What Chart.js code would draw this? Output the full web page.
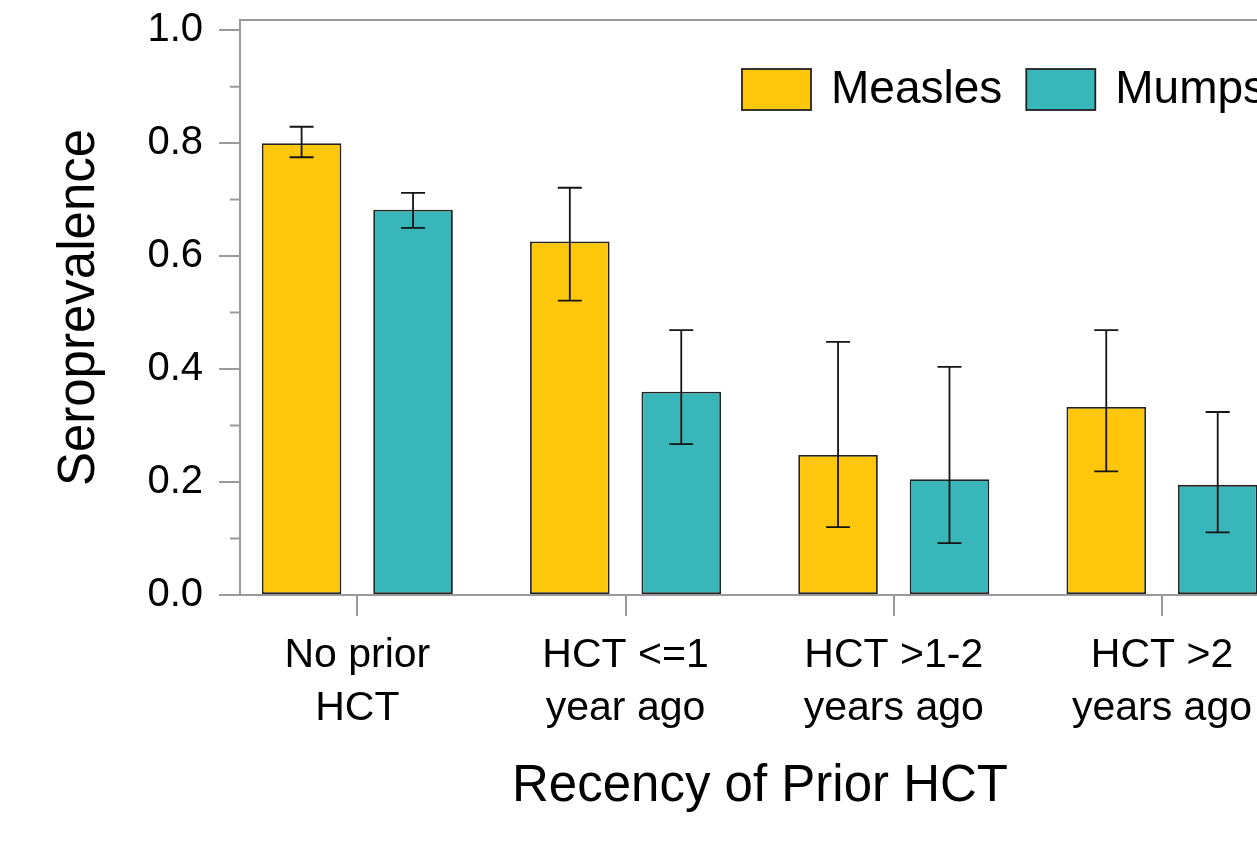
<!DOCTYPE html>
<html>
<head>
<meta charset="utf-8">
<script src="https://cdn.jsdelivr.net/npm/chart.js@4/dist/chart.umd.min.js"></script>
<style>
  html, body { margin: 0; padding: 0; overflow: hidden; background: #fff; }
</style>
</head>
<body>
<canvas id="chart" width="1300" height="845"></canvas>
<script>
const categories = [['No prior', 'HCT'], ['HCT <=1', 'year ago'], ['HCT >1-2', 'years ago'], ['HCT >2', 'years ago']];
const seriesNames = ['Measles', 'Mumps'];
const measles = [0.800, 0.626, 0.248, 0.333];
const measlesLow = [0.775, 0.521, 0.120, 0.219];
const measlesHigh = [0.829, 0.721, 0.448, 0.469];
const mumps = [0.682, 0.360, 0.205, 0.195];
const mumpsLow = [0.650, 0.267, 0.092, 0.111];
const mumpsHigh = [0.712, 0.469, 0.404, 0.324];
const yTicks = [0.0, 0.2, 0.4, 0.6, 0.8, 1.0];
const yMinorTicks = [0.1, 0.3, 0.5, 0.7, 0.9];

const colors = ['#FFC70B', '#39B6B9'];
const axisGray = '#9a9a9a';
const lows = [measlesLow, mumpsLow];
const highs = [measlesHigh, mumpsHigh];

Chart.defaults.font.family = '"Liberation Sans", Arial, sans-serif';
Chart.defaults.color = '#000';

// error bars from the y scale
const errorBars = {
  id: 'errorBars',
  afterDatasetsDraw(chart) {
    const ctx = chart.ctx;
    const y = chart.scales.y;
    ctx.save();
    ctx.strokeStyle = '#151515';
    ctx.lineWidth = 1.8;
    chart.data.datasets.forEach((ds, d) => {
      chart.getDatasetMeta(d).data.forEach((bar, i) => {
        const top = y.getPixelForValue(highs[d][i]);
        const bot = y.getPixelForValue(lows[d][i]);
        ctx.beginPath();
        ctx.moveTo(bar.x, top); ctx.lineTo(bar.x, bot);
        ctx.moveTo(bar.x - 12, top); ctx.lineTo(bar.x + 12, top);
        ctx.moveTo(bar.x - 12, bot); ctx.lineTo(bar.x + 12, bot);
        ctx.stroke();
      });
    });
    ctx.restore();
  }
};

// top frame, minor y ticks, legend inside plot
const extras = {
  id: 'extras',
  afterDraw(chart) {
    const ctx = chart.ctx;
    const area = chart.chartArea;
    const y = chart.scales.y;
    ctx.save();
    ctx.strokeStyle = axisGray;
    ctx.lineWidth = 2;
    ctx.beginPath();
    ctx.moveTo(area.left - 1, area.top);
    ctx.lineTo(area.right, area.top);
    yMinorTicks.forEach(v => {
      const py = y.getPixelForValue(v);
      ctx.moveTo(area.left - 10, py);
      ctx.lineTo(area.left, py);
    });
    ctx.stroke();

    ctx.font = '46px "Liberation Sans", Arial, sans-serif';
    ctx.textBaseline = 'middle';
    ctx.textAlign = 'left';
    let x = 742;
    const boxTop = 69, boxW = 69, boxH = 41;
    seriesNames.forEach((name, i) => {
      ctx.fillStyle = colors[i];
      ctx.fillRect(x, boxTop, boxW, boxH);
      ctx.strokeStyle = '#222';
      ctx.lineWidth = 1.8;
      ctx.strokeRect(x, boxTop, boxW, boxH);
      ctx.fillStyle = '#000';
      ctx.fillText(name, x + boxW + 20, boxTop + boxH / 2 + 1);
      x += boxW + 20 + ctx.measureText(name).width + 24;
    });
    ctx.restore();
  }
};

const ctx = document.getElementById('chart').getContext('2d');
new Chart(ctx, {
  type: 'bar',
  data: {
    datasets: [
      {
        label: seriesNames[0],
        data: measles.map((v, i) => ({ x: i + 1, y: v })),
        backgroundColor: colors[0],
        borderColor: '#222',
        borderWidth: 1.8,
        borderSkipped: false
      },
      {
        label: seriesNames[1],
        data: mumps.map((v, i) => ({ x: i + 1, y: v })),
        backgroundColor: colors[1],
        borderColor: '#222',
        borderWidth: 1.8,
        borderSkipped: false
      }
    ]
  },
  options: {
    responsive: false,
    animation: false,
    devicePixelRatio: 1,
    categoryPercentage: 0.831,
    barPercentage: 0.714,
    layout: { padding: { top: 20, right: 20, left: 0, bottom: 0 } },
    plugins: {
      legend: { display: false },
      tooltip: { enabled: false }
    },
    scales: {
      x: {
        type: 'linear',
        position: 'bottom',
        offset: false,
        min: 0.5626,
        max: 4.44,
        afterBuildTicks: scale => { scale.ticks = categories.map((c, i) => ({ value: i + 1 })); },
        afterFit: scale => {
          scale.height = 250;
          scale.paddingLeft = 0;
          scale.paddingRight = 0;
        },
        ticks: {
          callback: v => categories[v - 1],
          font: { size: 41, lineHeight: 1.3 },
          color: '#000',
          padding: 13,
          maxRotation: 0,
          autoSkip: false
        },
        grid: { offset: false, drawOnChartArea: false, drawTicks: true, tickLength: 21, color: axisGray, lineWidth: 2 },
        border: { color: axisGray, width: 2 },
        title: {
          display: true,
          text: 'Recency of Prior HCT',
          font: { size: 51 },
          color: '#000',
          padding: { top: 0, bottom: 27 }
        }
      },
      y: {
        min: 0,
        max: 1.018,
        afterBuildTicks: scale => { scale.ticks = yTicks.map(v => ({ value: v })); },
        afterFit: scale => {
          scale.width = 240;
          scale.paddingTop = 0;
          scale.paddingBottom = 0;
        },
        ticks: {
          callback: v => v.toFixed(1),
          font: { size: 40 },
          color: '#000',
          padding: 16
        },
        grid: { drawOnChartArea: false, drawTicks: true, tickLength: 21, color: axisGray, lineWidth: 2 },
        border: { color: axisGray, width: 2 },
        title: {
          display: true,
          text: 'Seroprevalence',
          font: { size: 51 },
          color: '#000',
          padding: { top: 49, bottom: 0 }
        }
      }
    }
  },
  plugins: [errorBars, extras]
});
</script>
</body>
</html>
